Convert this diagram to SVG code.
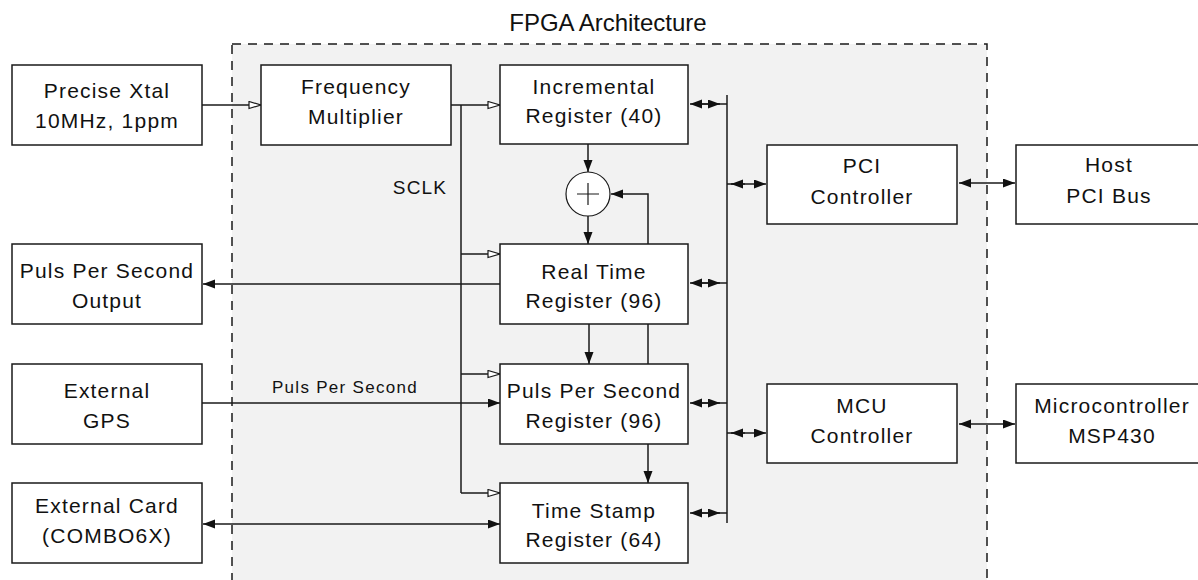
<svg xmlns="http://www.w3.org/2000/svg" width="1198" height="580" viewBox="0 0 1198 580">
<defs>
<style>
.box{fill:#fff;stroke:#1a1a1a;stroke-width:1.5}
.t{font-family:"Liberation Sans",Arial,sans-serif;font-size:21px;letter-spacing:1.2px;fill:#111;text-anchor:middle}
.ln{fill:none;stroke:#1a1a1a;stroke-width:1.5}
.f{marker-end:url(#arr)}
.h{marker-end:url(#harr)}
</style>
<marker id="arr" markerUnits="userSpaceOnUse" markerWidth="14" markerHeight="12" refX="12" refY="4.5" orient="auto-start-reverse">
<path d="M0,0 L12,4.5 L0,9 Z" fill="#111"/>
</marker>
<marker id="harr" markerUnits="userSpaceOnUse" markerWidth="16" markerHeight="10" refX="13" refY="4.5" orient="auto">
<path d="M1,1 L13,4.5 L1,8 Z" fill="#fff" stroke="#1a1a1a" stroke-width="1.2"/>
</marker>
</defs>
<rect x="0" y="0" width="1198" height="580" fill="#fff"/>
<g id="fpga">
<rect x="232" y="44" width="755" height="570" fill="#f2f2f2" stroke="#1a1a1a" stroke-width="1.5" stroke-dasharray="9 7"/>
<text x="608" y="31" style="font-family:'Liberation Sans',Arial,sans-serif;font-size:24px;fill:#111;text-anchor:middle">FPGA Architecture</text>
</g>
<g id="connectors">
<path class="ln h" d="M202,105 H261"/>
<path class="ln h" d="M451,105 H500"/>
<path class="ln" d="M461,105 V493"/>
<path class="ln h" d="M461,254 H500"/>
<path class="ln h" d="M461,374 H500"/>
<path class="ln h" d="M461,493 H500"/>
<path class="ln f" d="M588,144 V172"/>
<path class="ln f" d="M588,216 V244"/>
<path class="ln f" d="M648,244 V194 H611"/>
<path class="ln f" d="M500,284 H203"/>
<path class="ln f" d="M589,324 V364"/>
<path class="ln" d="M648,324 V364"/>
<path class="ln f" d="M648,444 V483"/>
<path class="ln f" d="M202,403 H500"/>
<path class="ln f" d="M203,524 H500" style="marker-start:url(#arr)"/>
<path class="ln" d="M727,95 V523"/>
<path class="ln" d="M690,104 H727" style="marker-start:url(#arr)"/><path class="ln f" d="M702,104 H720"/>
<path class="ln" d="M690,283 H727" style="marker-start:url(#arr)"/><path class="ln f" d="M702,283 H720"/>
<path class="ln" d="M690,403 H727" style="marker-start:url(#arr)"/><path class="ln f" d="M702,403 H720"/>
<path class="ln" d="M690,513 H727" style="marker-start:url(#arr)"/><path class="ln f" d="M702,513 H720"/>
<path class="ln f" d="M727,184 H766"/><path class="ln" d="M731,184 H745" style="marker-start:url(#arr)"/>
<path class="ln f" d="M727,433 H766"/><path class="ln" d="M731,433 H745" style="marker-start:url(#arr)"/>
<path class="ln f" d="M959,183 H1015" style="marker-start:url(#arr)"/>
<path class="ln f" d="M959,424 H1015" style="marker-start:url(#arr)"/>
<text class="t" x="420" y="194" style="font-size:19px;letter-spacing:1.2px">SCLK</text>
<text class="t" x="345" y="393" style="font-size:17px;letter-spacing:1.3px">Puls Per Second</text>
</g>
<g id="xtal"><rect class="box" x="12" y="65" width="190" height="80"/><text class="t" x="107" y="98">Precise Xtal</text><text class="t" x="107" y="128">10MHz, 1ppm</text></g>
<g id="freqmult"><rect class="box" x="261" y="65" width="190" height="80"/><text class="t" x="356" y="94">Frequency</text><text class="t" x="356" y="124">Multiplier</text></g>
<g id="increg"><rect class="box" x="500" y="65" width="188" height="79"/><text class="t" x="594" y="94">Incremental</text><text class="t" x="594" y="123">Register (40)</text></g>
<g id="adder"><circle cx="588" cy="194" r="22" fill="#fff" stroke="#1a1a1a" stroke-width="1.2"/><path d="M577,194 H599 M588,183 V205" stroke="#1a1a1a" stroke-width="1.2" fill="none"/></g>
<g id="rtreg"><rect class="box" x="500" y="244" width="188" height="80"/><text class="t" x="594" y="279">Real Time</text><text class="t" x="594" y="308">Register (96)</text></g>
<g id="ppsreg"><rect class="box" x="500" y="364" width="188" height="80"/><text class="t" x="594" y="398">Puls Per Second</text><text class="t" x="594" y="428">Register (96)</text></g>
<g id="tsreg"><rect class="box" x="500" y="483" width="188" height="80"/><text class="t" x="594" y="518">Time Stamp</text><text class="t" x="594" y="547">Register (64)</text></g>
<g id="ppsout"><rect class="box" x="12" y="244" width="190" height="80"/><text class="t" x="107" y="278">Puls Per Second</text><text class="t" x="107" y="308">Output</text></g>
<g id="gps"><rect class="box" x="12" y="364" width="190" height="80"/><text class="t" x="107" y="398">External</text><text class="t" x="107" y="428">GPS</text></g>
<g id="extcard"><rect class="box" x="12" y="483" width="190" height="80"/><text class="t" x="107" y="513">External Card</text><text class="t" x="107" y="543">(COMBO6X)</text></g>
<g id="pcictrl"><rect class="box" x="767" y="145" width="190" height="79"/><text class="t" x="862" y="173">PCI</text><text class="t" x="862" y="204">Controller</text></g>
<g id="mcuctrl"><rect class="box" x="767" y="384" width="190" height="79"/><text class="t" x="862" y="413">MCU</text><text class="t" x="862" y="443">Controller</text></g>
<g id="host"><rect class="box" x="1016" y="145" width="200" height="79"/><text class="t" x="1109" y="172">Host</text><text class="t" x="1109" y="203">PCI Bus</text></g>
<g id="msp"><rect class="box" x="1016" y="384" width="200" height="79"/><text class="t" x="1112" y="413">Microcontroller</text><text class="t" x="1112" y="443">MSP430</text></g>
</svg>
